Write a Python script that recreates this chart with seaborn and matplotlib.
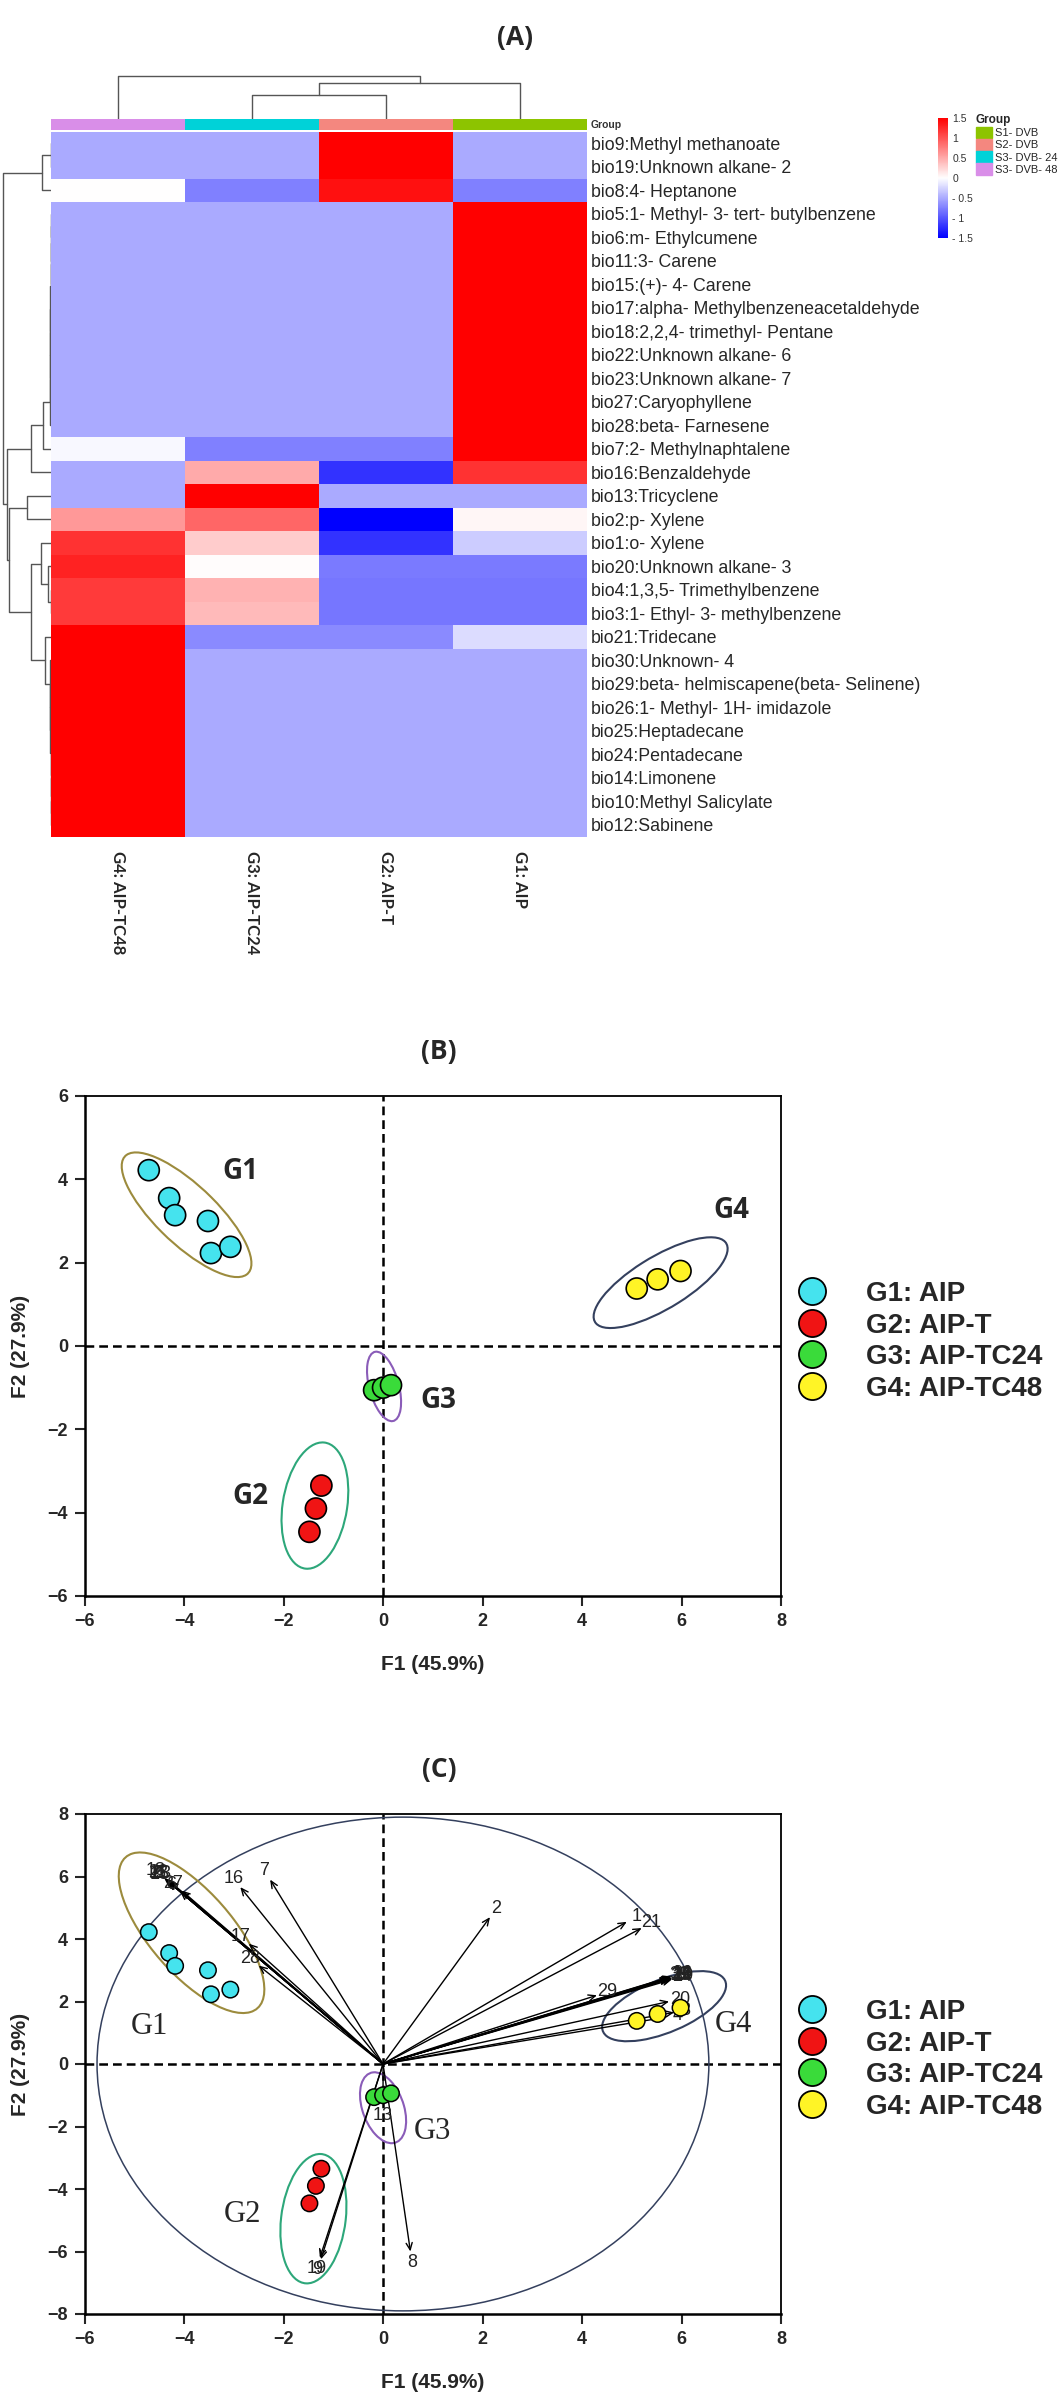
import matplotlib.pyplot as plt
import matplotlib.patches as mpatches
from matplotlib.lines import Line2D
from matplotlib.colors import LinearSegmentedColormap, ListedColormap
import numpy as np
import pandas as pd
import seaborn as sns

sns.set_style("white")
plt.rcParams["font.family"] = ["Liberation Sans", "DejaVu Sans"]
HEAVY = ["Open Sans", "DejaVu Sans"]

# ---------------- data ----------------
compounds = [
    "bio9:Methyl methanoate", "bio19:Unknown alkane- 2", "bio8:4- Heptanone",
    "bio5:1- Methyl- 3- tert- butylbenzene", "bio6:m- Ethylcumene", "bio11:3- Carene",
    "bio15:(+)- 4- Carene", "bio17:alpha- Methylbenzeneacetaldehyde",
    "bio18:2,2,4- trimethyl- Pentane", "bio22:Unknown alkane- 6", "bio23:Unknown alkane- 7",
    "bio27:Caryophyllene", "bio28:beta- Farnesene", "bio7:2- Methylnaphtalene",
    "bio16:Benzaldehyde", "bio13:Tricyclene", "bio2:p- Xylene", "bio1:o- Xylene",
    "bio20:Unknown alkane- 3", "bio4:1,3,5- Trimethylbenzene",
    "bio3:1- Ethyl- 3- methylbenzene", "bio21:Tridecane", "bio30:Unknown- 4",
    "bio29:beta- helmiscapene(beta- Selinene)", "bio26:1- Methyl- 1H- imidazole",
    "bio25:Heptadecane", "bio24:Pentadecane", "bio14:Limonene",
    "bio10:Methyl Salicylate", "bio12:Sabinene",
]
samples = ["G4: AIP-TC48", "G3: AIP-TC24", "G2: AIP-T", "G1: AIP"]
z_g4 = [-0.5, -0.5, 0.0, -0.5, -0.5, -0.5, -0.5, -0.5, -0.5, -0.5, -0.5, -0.5, -0.5, -0.04,
        -0.5, -0.5, 0.6, 1.2, 1.3, 1.15, 1.15, 1.5, 1.5, 1.5, 1.5, 1.5, 1.5, 1.5, 1.5, 1.5]
z_g3 = [-0.5, -0.5, -0.75, -0.5, -0.5, -0.5, -0.5, -0.5, -0.5, -0.5, -0.5, -0.5, -0.5, -0.75,
        0.5, 1.5, 0.9, 0.3, 0.02, 0.45, 0.4, -0.68, -0.5, -0.5, -0.5, -0.5, -0.5, -0.5, -0.5, -0.5]
z_g2 = [1.5, 1.5, 1.4, -0.5, -0.5, -0.5, -0.5, -0.5, -0.5, -0.5, -0.5, -0.5, -0.5, -0.75,
        -1.2, -0.5, -1.5, -1.2, -0.78, -0.8, -0.8, -0.68, -0.5, -0.5, -0.5, -0.5, -0.5, -0.5, -0.5, -0.5]
z_g1 = [-0.5, -0.5, -0.75, 1.5, 1.5, 1.5, 1.5, 1.5, 1.5, 1.5, 1.5, 1.5, 1.5, 1.5,
        1.2, -0.5, 0.05, -0.3, -0.78, -0.8, -0.8, -0.2, -0.5, -0.5, -0.5, -0.5, -0.5, -0.5, -0.5, -0.5]

group_names = ["S1- DVB", "S2- DVB", "S3- DVB- 24", "S3- DVB- 48"]
group_colors = ["#8DC400", "#F4877F", "#00D2D8", "#D98EE8"]
column_group = [3, 2, 1, 0]  # group index of each heatmap column

# dendrograms: (left, right, height); leaves are column / row indices
col_tree = (0, ((1, 2, 24.4), 3, 36.0), 43.0)

top_block = (((((((((3, 4, 0.2), 5, 0.3), 6, 0.4), 7, 0.5), 8, 0.6), 9, 0.7), 10, 0.8), 11, 0.9), 12, 1.0)
bottom_block = (((((((29, 28, 0.2), 27, 0.3), 26, 0.4), 25, 0.5), 24, 0.6), 23, 0.7), 22, 0.8)
clu_a = ((0, 1, 0.5), 2, 9.0)
clu_c = ((top_block, 13, 8.0), 14, 20.0)
clu_e = (15, 16, 24.0)
clu_g = (17, (18, (19, 20, 0.5), 3.0), 10.5)
clu_h = (21, bottom_block, 6.5)
clu_d = (clu_e, (clu_g, clu_h, 20.0), 42.5)
row_tree = (clu_a, (clu_c, clu_d, 43.6), 48.3)

groups = ["G1: AIP", "G2: AIP-T", "G3: AIP-TC24", "G4: AIP-TC48"]
point_colors = ["#45E3EE", "#F01414", "#3ADB3A", "#FFF426"]
g1_x = [-4.71, -4.3, -4.18, -3.52, -3.46, -3.07]
g1_y = [4.22, 3.55, 3.14, 3.0, 2.23, 2.38]
g2_x = [-1.24, -1.35, -1.48]
g2_y = [-3.35, -3.9, -4.46]
g3_x = [-0.18, 0.0, 0.16]
g3_y = [-1.06, -1.0, -0.94]
g4_x = [5.1, 5.52, 5.98]
g4_y = [1.38, 1.6, 1.8]

# confidence ellipses: centre x, centre y, width, height, angle
ell_colors = ["#9C8B3D", "#2DA77A", "#8A5CB8", "#34405E"]
ellB_cx = [-3.95, -1.37, 0.02, 5.58]
ellB_cy = [3.15, -3.83, -0.97, 1.52]
ellB_w = [3.75, 3.05, 1.7, 3.25]
ellB_h = [1.3, 1.3, 0.6, 1.2]
ellB_ang = [-50, 83, 102, 37]
ellC_cx = [-3.85, -1.4, 0.0, 5.65]
ellC_cy = [4.2, -4.95, -1.4, 1.85]
ellC_w = [5.6, 4.15, 2.3, 3.0]
ellC_h = [1.9, 1.3, 0.85, 1.5]
ellC_ang = [-65, 86, 100, 40]

# variable loadings (biplot arrows)
var_labels = ["5", "6", "11", "15", "18", "22", "23", "27", "16", "7", "17", "28",
              "2", "1", "21", "29", "30", "26", "24", "25", "14", "10", "12", "20", "3", "4",
              "13", "19", "9", "8"]
var_x = [-4.3, -4.08, -4.35, -4.32, -4.4, -4.36, -4.3, -4.05, -2.87, -2.27, -2.7, -2.5,
         2.15, 4.9, 5.2, 4.3, 5.75, 5.8, 5.8, 5.75, 5.78, 5.82, 5.8, 5.75, 5.85, 5.7,
         0.0, -1.27, -1.25, 0.55]
var_y = [5.85, 5.52, 5.88, 5.84, 5.95, 5.9, 5.86, 5.55, 5.66, 5.9, 3.85, 3.15,
         4.7, 4.55, 4.35, 2.2, 2.75, 2.8, 2.7, 2.72, 2.78, 2.74, 2.76, 2.0, 1.65, 1.5,
         -1.3, -6.2, -6.25, -6.0]

# ---------------- layout ----------------
W, H = 1063, 2405


def box(x0, y0, x1, y1):
    return [x0 / W, 1 - y1 / H, (x1 - x0) / W, (y1 - y0) / H]


fig = plt.figure(figsize=(W / 100, H / 100), dpi=100)


def draw_tree(ax, node, side):
    if isinstance(node, int):
        return node + 0.5, 0.0
    left, right, h = node
    pl, hl = draw_tree(ax, left, side)
    pr, hr = draw_tree(ax, right, side)
    if side == "top":
        ax.plot([pl, pl, pr, pr], [hl, h, h, hr], color="#555555", lw=1.0)
    else:
        ax.plot([hl, h, h, hr], [pl, pl, pr, pr], color="#555555", lw=1.0)
    return (pl + pr) / 2, h


# ---------------- (A) heatmap ----------------
fig.text(515 / W, 1 - 38 / H, "(A)", ha="center", va="center", fontsize=19,
         fontweight="bold", family=HEAVY)

heat = pd.DataFrame({samples[0]: z_g4, samples[1]: z_g3, samples[2]: z_g2, samples[3]: z_g1},
                    index=compounds)
cmap = LinearSegmentedColormap.from_list("bwr_", ["#0000FF", "#FFFFFF", "#FF0000"])

ax_h = fig.add_axes(box(51, 131.7, 587, 836.7))
ax_cb = fig.add_axes(box(938, 118, 948, 238))
sns.heatmap(heat, cmap=cmap, vmin=-1.5, vmax=1.5, ax=ax_h, cbar_ax=ax_cb,
            xticklabels=True, yticklabels=True)
ax_h.yaxis.tick_right()
ax_h.tick_params(axis="both", length=0)
ax_h.set_yticklabels(compounds, rotation=0, fontsize=12.8)
ax_h.set_xticklabels(samples, rotation=270, fontsize=12, fontweight="bold",
                     family=["Lato", "DejaVu Sans"], va="top")
ax_h.tick_params(axis="x", pad=10)
ax_h.tick_params(axis="y", pad=3)
ax_h.set_xlabel("")
ax_h.set_ylabel("")

cbar = ax_h.collections[0].colorbar
cbar.set_ticks([1.5, 1, 0.5, 0, -0.5, -1, -1.5])
cbar.set_ticklabels(["1.5", "1", "0.5", "0", "- 0.5", "- 1", "- 1.5"])
cbar.outline.set_visible(False)
ax_cb.tick_params(length=0, labelsize=7.5, labelcolor="#333333", pad=3)

ax_g = fig.add_axes(box(51, 119, 587, 130))
sns.heatmap(pd.DataFrame([column_group]), cmap=ListedColormap(group_colors), vmin=-0.5,
            vmax=3.5, cbar=False, ax=ax_g, xticklabels=False, yticklabels=False)
fig.text(591 / W, 1 - 124.5 / H, "Group", fontsize=7.5, fontweight="bold", va="center",
         color="#333333")

ax_cd = fig.add_axes(box(51, 70, 587, 119))
draw_tree(ax_cd, col_tree, "top")
ax_cd.set_xlim(0, 4)
ax_cd.set_ylim(0, 49)
ax_cd.axis("off")

ax_rd = fig.add_axes(box(0, 131.7, 51, 836.7))
draw_tree(ax_rd, row_tree, "left")
ax_rd.set_xlim(51, 0)
ax_rd.set_ylim(30, 0)
ax_rd.axis("off")

fig.legend(handles=[mpatches.Patch(color=c) for c in group_colors], labels=group_names,
           title="Group", loc="upper left", bbox_to_anchor=(976 / W, 1 - 114 / H),
           frameon=False, fontsize=8, title_fontproperties={"weight": "bold", "size": 8.5},
           alignment="left", handlelength=1.4, handleheight=1.25, handletextpad=0.3,
           labelspacing=0.05, borderpad=0, borderaxespad=0)


# ---------------- (B) / (C) PCA ----------------
pts = pd.DataFrame({
    "F1": g1_x + g2_x + g3_x + g4_x,
    "F2": g1_y + g2_y + g3_y + g4_y,
    "group": [groups[0]] * len(g1_x) + [groups[1]] * len(g2_x)
             + [groups[2]] * len(g3_x) + [groups[3]] * len(g4_x),
})
palette = dict(zip(groups, point_colors))


def style_pca(ax, ymin, ymax):
    ax.set_xlim(-6, 8)
    ax.set_ylim(ymin, ymax)
    ax.set_xticks(range(-6, 9, 2))
    ax.set_yticks(range(ymin, ymax + 1, 2))
    ax.axhline(0, color="black", lw=1.8, ls=(0, (3.5, 2)), zorder=1)
    ax.axvline(0, color="black", lw=1.8, ls=(0, (3.5, 2)), zorder=1)
    for side in ["left", "bottom"]:
        ax.spines[side].set_linewidth(1.8)
    for side in ["top", "right"]:
        ax.spines[side].set_linewidth(1.3)
    for s in ax.spines.values():
        s.set_color("black")
    ax.tick_params(direction="out", length=7, width=1.5, labelsize=13, pad=5,
                   left=True, bottom=True)
    for t in ax.get_xticklabels() + ax.get_yticklabels():
        t.set_fontweight("bold")


def finish_pca(ax):
    ax.set_xlabel("F1 (45.9%)", fontsize=15, fontweight="bold")
    ax.set_ylabel("F2 (27.9%)", fontsize=15, fontweight="bold")
    ax.xaxis.set_label_coords(0.5, -0.118)
    ax.yaxis.set_label_coords(-0.078, 0.5)


def add_legend(y_top):
    handles = [Line2D([], [], ls="", marker="o", markersize=19.5, markerfacecolor=c,
                      markeredgecolor="black", markeredgewidth=1.3) for c in point_colors]
    fig.legend(handles=handles, labels=groups, loc="upper left",
               bbox_to_anchor=(798 / W, 1 - y_top / H), frameon=False,
               prop={"size": 20, "weight": "bold"}, handlelength=1.0,
               handletextpad=1.44, labelspacing=0.2, borderpad=0, borderaxespad=0)


# (B)
fig.text(439 / W, 1 - 1052 / H, "(B)", ha="center", va="center", fontsize=19,
         fontweight="bold", family=HEAVY)
ax_b = fig.add_axes(box(84.6, 1096, 781, 1596))
style_pca(ax_b, -6, 6)
for i in range(4):
    ax_b.add_patch(mpatches.Ellipse((ellB_cx[i], ellB_cy[i]), ellB_w[i], ellB_h[i],
                                    angle=ellB_ang[i], fill=False, ec=ell_colors[i], lw=1.5))
sns.scatterplot(data=pts, x="F1", y="F2", hue="group", palette=palette, s=230,
                edgecolor="black", linewidth=1.2, legend=False, ax=ax_b, zorder=3)
finish_pca(ax_b)
labB = [("G1", -2.87, 4.18), ("G2", -2.67, -3.62), ("G3", 1.11, -1.3), ("G4", 7.01, 3.26)]
for name, x, y in labB:
    ax_b.text(x, y, name, fontsize=20, fontweight="bold", ha="center", va="center",
              family=HEAVY)
add_legend(1281)

# (C)
fig.text(439 / W, 1 - 1770 / H, "(C)", ha="center", va="center", fontsize=19,
         fontweight="bold", family=HEAVY)
ax_c = fig.add_axes(box(84.6, 1814, 781, 2314))
style_pca(ax_c, -8, 8)
ax_c.add_patch(mpatches.Ellipse((0.4, 0.0), 12.3, 15.8, fill=False, ec="#34405E", lw=1.1))
for i in range(4):
    ax_c.add_patch(mpatches.Ellipse((ellC_cx[i], ellC_cy[i]), ellC_w[i], ellC_h[i],
                                    angle=ellC_ang[i], fill=False, ec=ell_colors[i], lw=1.5))
for lbl, x, y in zip(var_labels, var_x, var_y):
    ax_c.annotate("", xy=(x, y), xytext=(0, 0),
                  arrowprops=dict(arrowstyle="->,head_length=0.5,head_width=0.22",
                                  color="black", lw=1.0, shrinkA=0, shrinkB=0), zorder=2)
    d = np.array([x * 49.8, y * 31.25])
    d = d / np.linalg.norm(d)
    ax_c.annotate(lbl, xy=(x, y), xytext=(d[0] * 8, d[1] * 8), textcoords="offset points",
                  ha="center", va="center", fontsize=13, color="#222222")
sns.scatterplot(data=pts, x="F1", y="F2", hue="group", palette=palette, s=140,
                edgecolor="black", linewidth=1.1, legend=False, ax=ax_c, zorder=3)
finish_pca(ax_c)
labC = [("G1", -4.7, 1.2), ("G2", -2.83, -4.83), ("G3", 1.0, -2.17), ("G4", 7.04, 1.25)]
for name, x, y in labC:
    ax_c.text(x, y, name, fontsize=22, ha="center", va="center",
              family=["Liberation Serif", "DejaVu Serif"])
add_legend(1999)

fig.savefig("out.png", dpi=100, facecolor="white")
